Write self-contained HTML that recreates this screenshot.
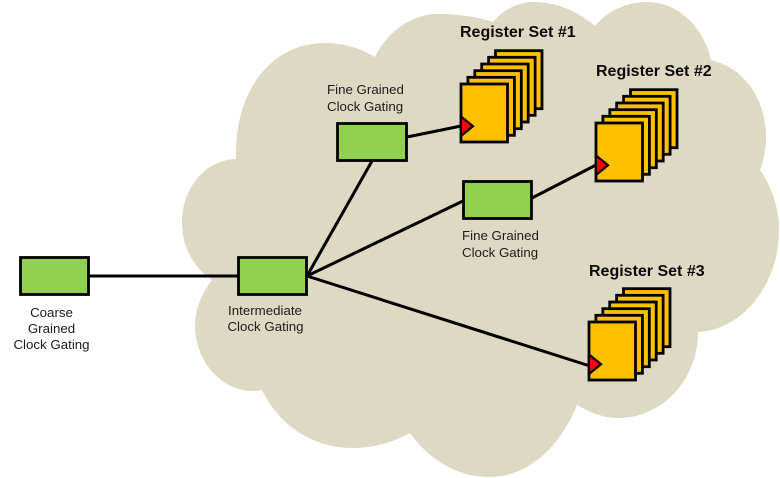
<!DOCTYPE html>
<html>
<head>
<meta charset="utf-8">
<style>
html,body{margin:0;padding:0;background:#fff;width:780px;height:478px;overflow:hidden}
svg{display:block}
text{font-family:"Liberation Sans",Arial,sans-serif;fill:#1c1c1c}
.s{font-size:13.3px}
.t{font-size:16px;font-weight:bold;fill:#0a0a0a}
.g{fill:#92D050;stroke:#000;stroke-width:2.8}
.r{fill:#FFC000;stroke:#000;stroke-width:2.8}
.c{fill:#F00;stroke:#000;stroke-width:2.2;stroke-linejoin:miter}
.l{stroke:#000;stroke-width:3;fill:none}
</style>
</head>
<body>
<svg width="780" height="478" viewBox="0 0 780 478" xmlns="http://www.w3.org/2000/svg">
<defs>
<g id="stack">
<rect class="r" x="34.5" y="-33.3" width="46.5" height="58"/>
<rect class="r" x="27.6" y="-26.7" width="46.5" height="58"/>
<rect class="r" x="20.7" y="-20" width="46.5" height="58"/>
<rect class="r" x="13.8" y="-13.3" width="46.5" height="58"/>
<rect class="r" x="6.9" y="-6.7" width="46.5" height="58"/>
<rect class="r" x="0" y="0" width="46.5" height="58"/>
<polygon class="c" points="0,32.5 12,42.2 0,52"/>
</g>
</defs>

<path fill="#DDD9C3" d="M236 159
C234 90 272 43 325 43
C345 43 362 49 375 57
C386 34 410 14 437 14
C458 14 478 17 493 22
C503 10 518 2 533 2
C556 2 578 11 595 26
C608 10 628 2 647 2
C680 2 705 30 711 60
C745 68 766 100 766 137
C766 148 764 160 760 170
C772 187 779 208 779 230
C779 285 742 330 698 332
C698 380 662 418 618 418
C603 418 589 412 577 405
C560 447 528 477 490 477
C455 477 428 458 410 433
C394 442 374 448 352 448
C312 448 278 424 262 390
C258 391 255 391 253 391
C220 391 195 360 195 325
C195 309 202 293 212 280
C194 268 182 247 182 223
C182 188 205 160 236 159Z"/>

<line class="l" x1="89" y1="276" x2="238" y2="276"/>
<line class="l" x1="307" y1="276" x2="372" y2="161"/>
<line class="l" x1="307" y1="276" x2="463" y2="201"/>
<line class="l" x1="307" y1="276" x2="590" y2="366"/>
<line class="l" x1="407" y1="137" x2="461" y2="126"/>
<line class="l" x1="532" y1="198" x2="596" y2="165"/>

<rect class="g" x="20.5" y="257.5" width="68" height="37"/>
<rect class="g" x="238.5" y="257.5" width="68" height="37"/>
<rect class="g" x="337.5" y="123.5" width="69" height="37"/>
<rect class="g" x="463.5" y="181.5" width="68" height="37"/>

<use href="#stack" x="461" y="84"/>
<use href="#stack" x="596" y="123"/>
<use href="#stack" x="589" y="322"/>

<text class="t" x="460" y="37">Register Set #1</text>
<text class="t" x="596" y="76">Register Set #2</text>
<text class="t" x="589" y="276">Register Set #3</text>

<text class="s" x="327" y="94">Fine Grained</text>
<text class="s" x="327" y="111">Clock Gating</text>

<text class="s" x="462" y="240">Fine Grained</text>
<text class="s" x="462" y="257">Clock Gating</text>

<text class="s" x="265" y="315" text-anchor="middle">Intermediate</text>
<text class="s" x="265.5" y="331" text-anchor="middle">Clock Gating</text>

<text class="s" x="51.5" y="317" text-anchor="middle">Coarse</text>
<text class="s" x="51.5" y="333" text-anchor="middle">Grained</text>
<text class="s" x="51.5" y="349" text-anchor="middle">Clock Gating</text>
</svg>
</body>
</html>
